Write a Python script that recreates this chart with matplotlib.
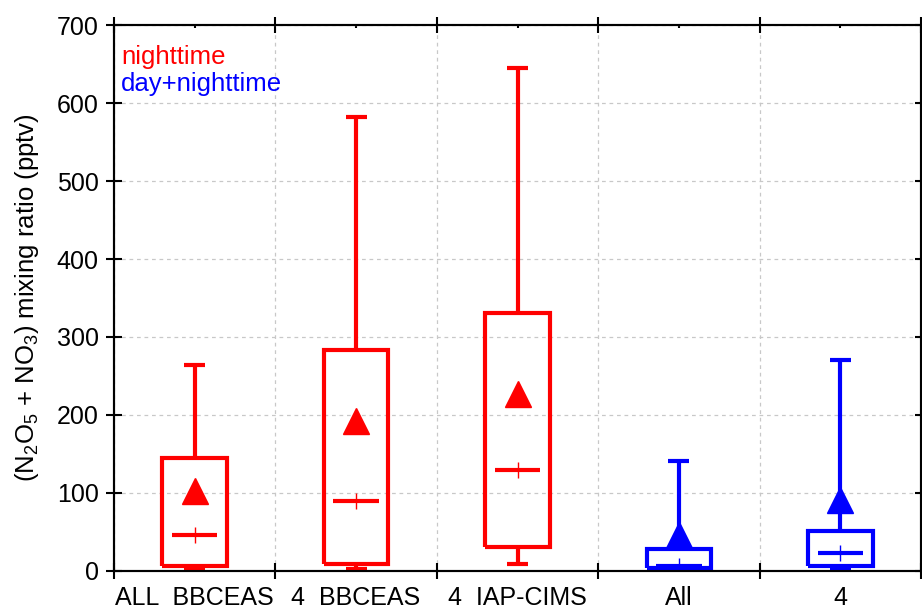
import matplotlib.pyplot as plt
import numpy as np

plt.rcParams['font.family'] = ['Liberation Sans', 'DejaVu Sans']
plt.rcParams['mathtext.fontset'] = 'custom'
plt.rcParams['mathtext.rm'] = 'Liberation Sans'
plt.rcParams['mathtext.it'] = 'Liberation Sans'

# box statistics per data set (pptv)
labels = ['ALL  BBCEAS', '4  BBCEAS', '4  IAP-CIMS', 'All', '4']
whis_low = [2, 2, 9, 0, 1]
q1 = [6, 9, 31, 4, 6]
median = [46, 90, 129, 6, 23]
q3 = [145, 283, 331, 28, 51]
whis_high = [264, 582, 645, 141, 271]
mean = [102, 192, 227, 46, 91]
colors = ['#ff0000', '#ff0000', '#ff0000', '#0000ff', '#0000ff']

fig = plt.figure(figsize=(9.22, 6.06), dpi=100)
ax = fig.add_axes([0.1236, 0.0578, 0.8754, 0.9009])

pos = np.arange(len(labels)) + 0.5
for i, c in enumerate(colors):
    stats = [dict(med=median[i], q1=q1[i], q3=q3[i], whislo=whis_low[i],
                  whishi=whis_high[i], mean=mean[i], fliers=[])]
    lp = dict(color=c, linewidth=3, solid_capstyle='butt', solid_joinstyle='miter')
    ax.bxp(stats, positions=[pos[i]], widths=0.4, capwidths=0.13,
           showmeans=True, showfliers=False,
           boxprops=lp, whiskerprops=lp, capprops=lp,
           medianprops=dict(visible=False),
           meanprops=dict(marker='^', markerfacecolor=c, markeredgecolor=c,
                          markersize=19),
           manage_ticks=False, zorder=3)
    # shorter median bar with a thin cross
    ax.hlines(median[i], pos[i] - 0.14, pos[i] + 0.14, color=c, linewidth=3,
              zorder=3)
    ax.plot(pos[i], median[i], marker='+', color=c, markersize=11,
            markeredgewidth=1, zorder=4)

ax.set_xlim(0, 5)
ax.set_ylim(0, 700)
ax.set_xticks(np.arange(0, 6))
ax.set_xticklabels([])
ax.set_xticks(pos, minor=True)
ax.set_xticklabels(labels, minor=True)
ax.set_yticks(np.arange(0, 701, 100))

ax.tick_params(axis='x', which='major', direction='inout', length=11.5,
               width=1.5, top=True, bottom=True)
ax.tick_params(axis='x', which='minor', bottom=False, top=True,
               direction='in', length=2, width=1.5, pad=10.5, labelsize=18)
ax.tick_params(axis='y', which='major', direction='inout', length=12,
               width=1.5, labelsize=18, pad=5)

ax2 = ax.twinx()
ax2.set_ylim(0, 700)
ax2.set_yticks(np.arange(0, 701, 100))
ax2.tick_params(axis='y', direction='in', length=4, width=1.5,
                labelright=False)

for a in (ax, ax2):
    for s in a.spines.values():
        s.set_linewidth(1.5)

ax.grid(True, which='major', color='#c8c8c8', linestyle=(0, (3, 3)),
        linewidth=0.9)
ax.set_axisbelow(True)

ax.set_ylabel(r'(N$_2$O$_5$ + NO$_3$) mixing ratio (pptv)', fontsize=18.5,
              labelpad=11)

ax.text(0.045, 659, 'nighttime', color='#ff0000', fontsize=18.5, va='center')
ax.text(0.045, 624, 'day+nighttime', color='#0000ff', fontsize=18.5,
        va='center')

fig.savefig('out.png', dpi=100)
